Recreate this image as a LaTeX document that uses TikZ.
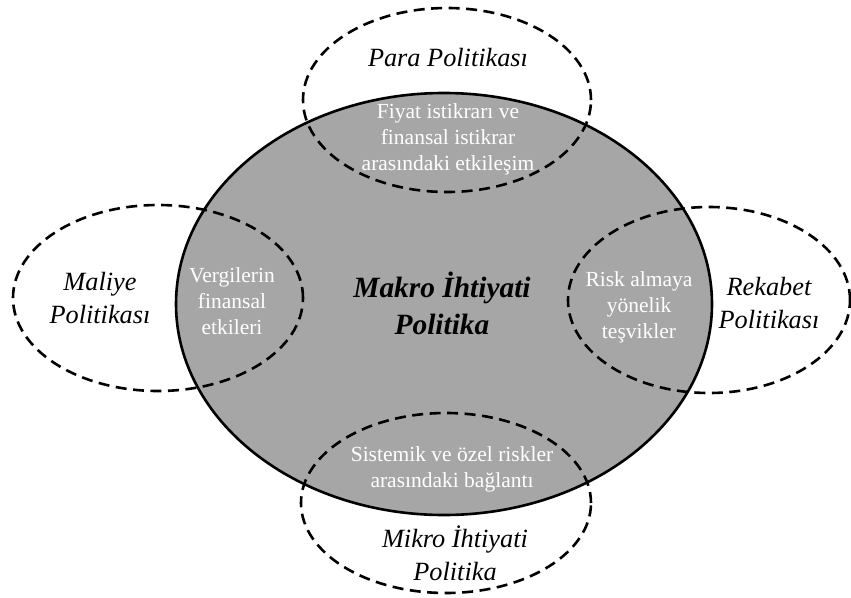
\documentclass[tikz,border=0pt]{standalone}
\usepackage{fontspec}
\setmainfont{Liberation Serif}
\usetikzlibrary{shapes.geometric}
\definecolor{corefill}{RGB}{166,166,166}
\tikzset{
  core/.style={ellipse, draw=black, line width=2.6pt, fill=corefill, inner sep=0pt},
  policy/.style={ellipse, draw=black, line width=2.6pt, dash pattern=on 11pt off 6.5pt, inner sep=0pt},
  outer/.style={align=center, inner sep=0pt, font=\fontsize{26.3}{33}\selectfont\itshape},
  overlap/.style={align=center, inner sep=0pt, text=white, font=\fontsize{21.5}{26}\selectfont},
  centre/.style={align=center, inner sep=0pt, font=\fontsize{29.4}{37}\selectfont\bfseries\itshape}
}
\begin{document}
\begin{tikzpicture}[x=1pt, y=-1pt]
  \useasboundingbox (0,0) rectangle (851,597);
  % central area
  \node[core, minimum width=536pt, minimum height=422pt] (macro) at (444,304) {};
  % surrounding policy areas
  \node[policy, minimum width=288pt, minimum height=184pt] (money) at (447,100) {};
  \node[policy, minimum width=290pt, minimum height=180pt] (micro) at (446,503) {};
  \node[policy, minimum width=290pt, minimum height=186pt] (fiscal) at (158,298) {};
  \node[policy, minimum width=282pt, minimum height=186pt] (compet) at (709,300) {};
  % labels
  \node[centre] (macrolbl) at (442,303) {Makro İhtiyati\\Politika};
  \node[outer] (moneylbl) at (448,58) {Para Politikası};
  \node[outer] (fiscallbl) at (100,298) {Maliye\\Politikası};
  \node[outer] (competlbl) at (769,303) {Rekabet\\Politikası};
  \node[outer] (microlbl) at (455,553) {Mikro İhtiyati\\Politika};
  \node[overlap] (moneyov) at (448,139) {Fiyat istikrarı ve\\finansal istikrar\\arasındaki etkileşim};
  \node[overlap] (fiscalov) at (232,301) {Vergilerin\\finansal\\etkileri};
  \node[overlap] (competov) at (639,307) {Risk almaya\\yönelik\\teşvikler};
  \node[overlap] (microov) at (452,469) {Sistemik ve özel riskler\\arasındaki bağlantı};
\end{tikzpicture}
\end{document}
